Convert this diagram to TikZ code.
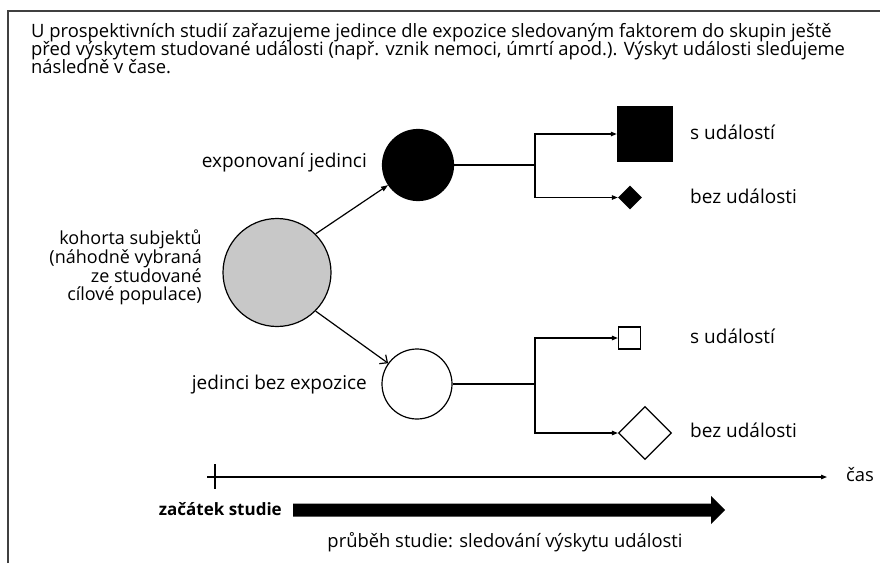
\documentclass[tikz,border=0pt]{standalone}
\usepackage{fontspec}
\setmainfont{Open Sans}
\usetikzlibrary{arrows.meta,shapes.geometric}
\definecolor{cohortgray}{RGB}{200,200,200}
\definecolor{framegray}{RGB}{64,64,64}
\begin{document}
\begin{tikzpicture}[x=1pt,y=-1pt,
  lbl/.style={font=\fontsize{19}{18}\selectfont, inner sep=0pt},
  blocklbl/.style={font=\fontsize{18}{18}\selectfont, inner sep=0pt},
  cond/.style={font=\fontsize{18.4}{17.5}\selectfont, inner sep=0pt},
  conn/.style={line width=1.2pt},
  filltip/.style={-{Triangle[length=6pt,width=4.5pt]}},
  opentip/.style={-{Straight Barb[length=6pt,width=11pt]}},
  outline/.style={draw, line width=1.2pt, inner sep=0pt}]
\useasboundingbox (0,0) rectangle (880,563);
% frame
\draw[line width=1.5pt, framegray] (8,563) -- (8,11) -- (880,11);
% intro text
\node[cond, anchor=base west] (t1) at (31,37) {U prospektivních studií zařazujeme jedince dle expozice sledovaným faktorem do skupin ještě};
\node[cond, anchor=base west] (t2) at (31,55) {před výskytem studované události (např. vznik nemoci, úmrtí apod.). Výskyt události sledujeme};
\node[cond, anchor=base west] (t3) at (31,73) {následně v čase.};
% circles
\node[circle, outline, fill=cohortgray, minimum size=108pt] (coh) at (277,272.5) {};
\node[circle, outline, fill=black, minimum size=71pt] (exp) at (418,165) {};
\node[circle, outline, fill=white, minimum size=70pt] (nexp) at (417,384) {};
% labels
\node[lbl, anchor=base east] (lexp) at (367,167) {exponovaní jedinci};
\node[lbl, anchor=base east] (lnexp) at (367,389) {jedinci bez expozice};
\node[blocklbl, anchor=east, align=right] (lcoh) at (202,267) {kohorta subjektů\\(náhodně vybraná\\ze studované\\cílové populace)};
% outcomes
\coordinate (b1) at (535,165);
\coordinate (b2) at (535,384);
\node[rectangle, fill=black, minimum size=56pt, inner sep=0pt] (sq1) at (645,134) {};
\node[diamond, aspect=1, fill=black, minimum size=24pt, inner sep=0pt] (dm1) at (630,197.5) {};
\node[rectangle, outline, fill=white, minimum size=22pt] (sq2) at (629.5,338) {};
\node[diamond, aspect=1, outline, fill=white, minimum size=53pt] (dm2) at (645,433) {};
\node[lbl, anchor=base west] (ls1) at (690,139) {s událostí};
\node[lbl, anchor=base west] (ld1) at (690,203) {bez události};
\node[lbl, anchor=base west] (ls2) at (690,343) {s událostí};
\node[lbl, anchor=base west] (ld2) at (690,437) {bez události};
% connectors
\draw[conn, -{Triangle[length=7pt,width=5pt]}] (coh.45) -- (exp);
\draw[conn, opentip] (coh.-45) -- (nexp);
\draw[conn] (exp.east) -- (b1);
\draw[conn, filltip] (b1) |- (sq1.west);
\draw[conn, filltip] (b1) |- (dm1.west);
\draw[conn] (nexp.east) -- (b2);
\draw[conn, filltip] (b2) |- (sq2.west);
\draw[conn, filltip] (b2) |- (dm2.west);
% time axis
\coordinate (ax0) at (207,477);
\coordinate (ax1) at (827,477);
\coordinate (tk0) at (215,464);
\coordinate (tk1) at (215,489);
\draw[conn, filltip] (ax0) -- (ax1);
\draw[conn] (tk0) -- (tk1);
\node[cond, anchor=base west] (cas) at (846,481) {čas};
% study bar
\node[cond, font=\bfseries\fontsize{17}{18}\selectfont, anchor=base east] (start) at (282,515) {začátek studie};
\fill (293,503.5) -- (711,503.5) -- (711,496) -- (725,510) -- (711,524) -- (711,516.5) -- (293,516.5) -- cycle;
\node[cond, anchor=base] (course) at (505,547) {průběh studie: sledování výskytu události};
\end{tikzpicture}
\end{document}
